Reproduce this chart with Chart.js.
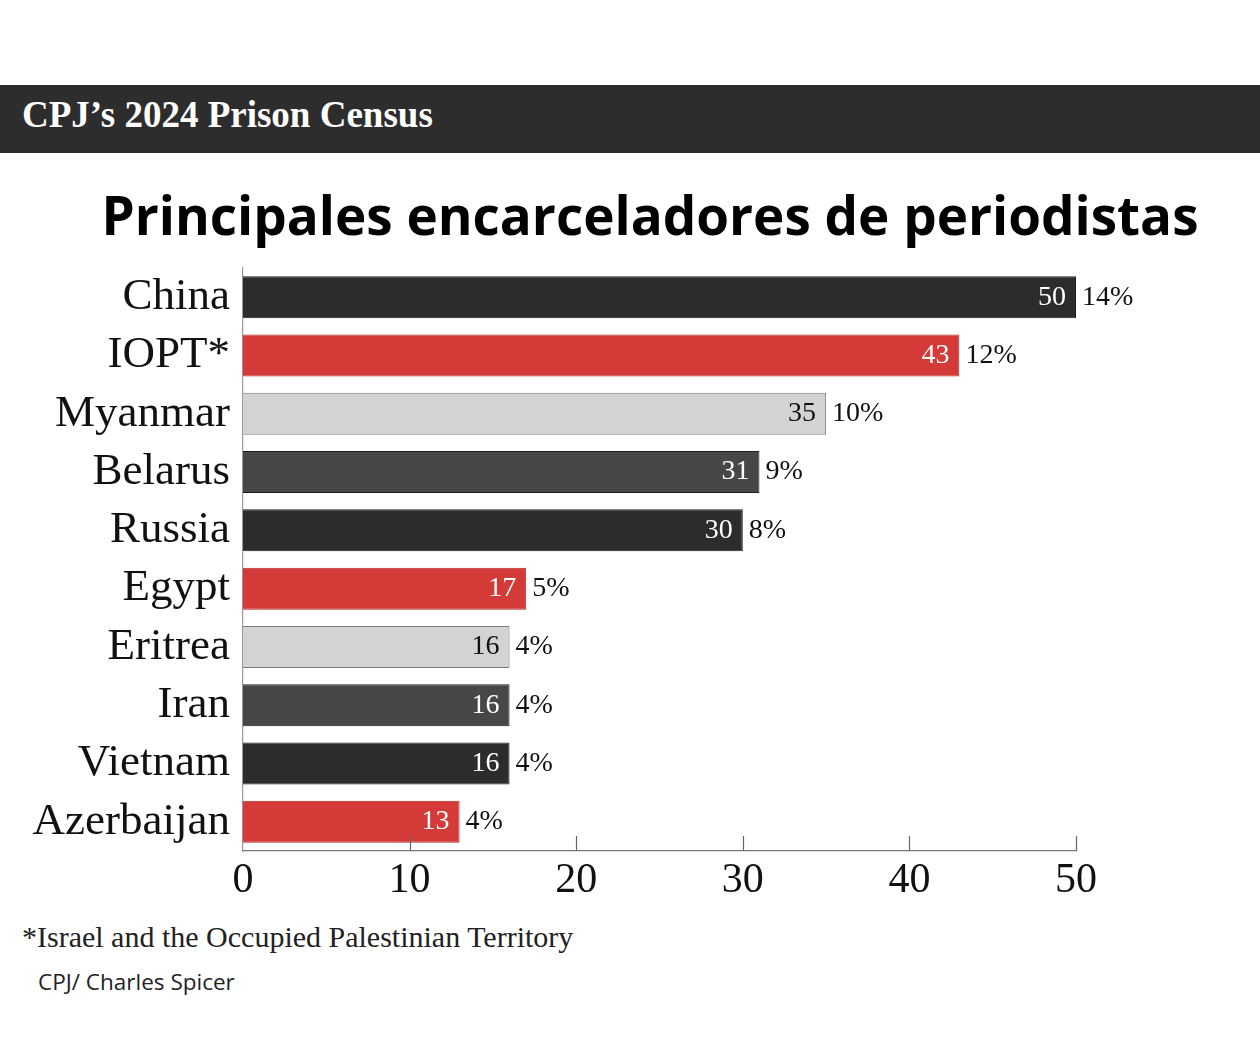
<!DOCTYPE html>
<html>
<head>
<meta charset="utf-8">
<script src="https://cdn.jsdelivr.net/npm/chart.js@4.4.0/dist/chart.umd.min.js"></script>
<style>
  body { margin: 0; width: 1260px; height: 1050px; background: #fff; position: relative; overflow: hidden; }
  #header { position: absolute; left: 0; top: 85px; width: 1260px; height: 68px; background: #2d2d2d; }
  #header span { position: absolute; left: 22px; top: 8px; color: #fff; font: bold 37px "Liberation Serif", serif; }
  #title { position: absolute; left: 0; width: 1300px; top: 178px; text-align: center; font: bold 53px "Open Sans", sans-serif; color: #000; }
  #wrap { position: absolute; left: 0; top: 228px; width: 1260px; height: 682px; }
  #note { position: absolute; left: 22px; top: 920px; font: 30px "Liberation Serif", serif; color: #222; }
  #credit { position: absolute; left: 38px; top: 966px; font: 22.5px "Open Sans", sans-serif; color: #222; }
</style>
</head>
<body>
<div id="header"><span>CPJ’s 2024 Prison Census</span></div>
<div id="title">Principales encarceladores de periodistas</div>
<div id="wrap"><canvas id="chart"></canvas></div>
<div id="note">*Israel and the Occupied Palestinian Territory</div>
<div id="credit">CPJ/ Charles Spicer</div>
<script>
// datos
const countries = ['China', 'IOPT*', 'Myanmar', 'Belarus', 'Russia', 'Egypt', 'Eritrea', 'Iran', 'Vietnam', 'Azerbaijan'];
const jailed = [50, 43, 35, 31, 30, 17, 16, 16, 16, 13];
const shares = ['14%', '12%', '10%', '9%', '8%', '5%', '4%', '4%', '4%', '4%'];
const xTicks = [0, 10, 20, 30, 40, 50];

const BLACK = '#2c2c2c', RED = '#d33a38', LIGHT = '#d3d3d3', GREY = '#474747';
const barColors = [BLACK, RED, LIGHT, GREY, BLACK, RED, LIGHT, GREY, BLACK, RED];
const borderColors = barColors.map(c => c === LIGHT ? '#7c7c7c' : (c === RED ? '#b02c2a' : '#1e1e1e'));

const serif = '"Liberation Serif", serif';

// etiquetas de valor y porcentaje + marcas del eje
const labelsPlugin = {
    id: 'barLabels',
    afterDatasetsDraw(chart) {
        const ctx = chart.ctx;
        const meta = chart.getDatasetMeta(0);
        ctx.save();
        ctx.font = '28px ' + serif;
        ctx.textBaseline = 'middle';
        meta.data.forEach((bar, i) => {
            ctx.textAlign = 'right';
            ctx.fillStyle = barColors[i] === LIGHT ? '#111' : '#fff';
            ctx.fillText(String(jailed[i]), bar.x - 10, bar.y);
            ctx.textAlign = 'left';
            ctx.fillStyle = '#111';
            ctx.fillText(shares[i], bar.x + 6, bar.y);
        });
        // ticks hacia arriba
        const xs = chart.scales.x;
        const bottom = chart.chartArea.bottom;
        ctx.strokeStyle = '#666';
        ctx.lineWidth = 1.2;
        xTicks.slice(1).forEach(v => {
            const px = Math.round(xs.getPixelForValue(v)) + 0.5;
            ctx.beginPath();
            ctx.moveTo(px, bottom);
            ctx.lineTo(px, bottom - 15);
            ctx.stroke();
        });
        ctx.restore();
    }
};

new Chart(document.getElementById('chart'), {
    type: 'bar',
    data: {
        labels: countries,
        datasets: [{
            data: jailed,
            backgroundColor: barColors,
            borderColor: borderColors,
            borderWidth: 1,
            barPercentage: 0.72,
            categoryPercentage: 1
        }]
    },
    options: {
        indexAxis: 'y',
        responsive: true,
        maintainAspectRatio: false,
        animation: false,
        layout: { padding: { top: 0, right: 184, left: 0, bottom: 0 } },
        plugins: {
            legend: { display: false },
            tooltip: { enabled: false }
        },
        scales: {
            x: {
                min: 0,
                max: 50,
                afterBuildTicks: (scale) => { scale.ticks = xTicks.map(v => ({ value: v })); },
                afterFit: (scale) => { scale.height = 59; },
                grid: { display: false, drawTicks: false },
                border: { color: '#777', width: 1.2 },
                ticks: { color: '#111', font: { family: serif, size: 42 }, padding: 5, maxRotation: 0 }
            },
            y: {
                afterFit: (scale) => { scale.width = 243; },
                grid: { display: false, drawTicks: false },
                border: { color: '#999', width: 1.2 },
                ticks: { color: '#111', font: { family: serif, size: 45 }, padding: 13, autoSkip: false }
            }
        }
    },
    plugins: [labelsPlugin]
});
</script>
</body>
</html>
